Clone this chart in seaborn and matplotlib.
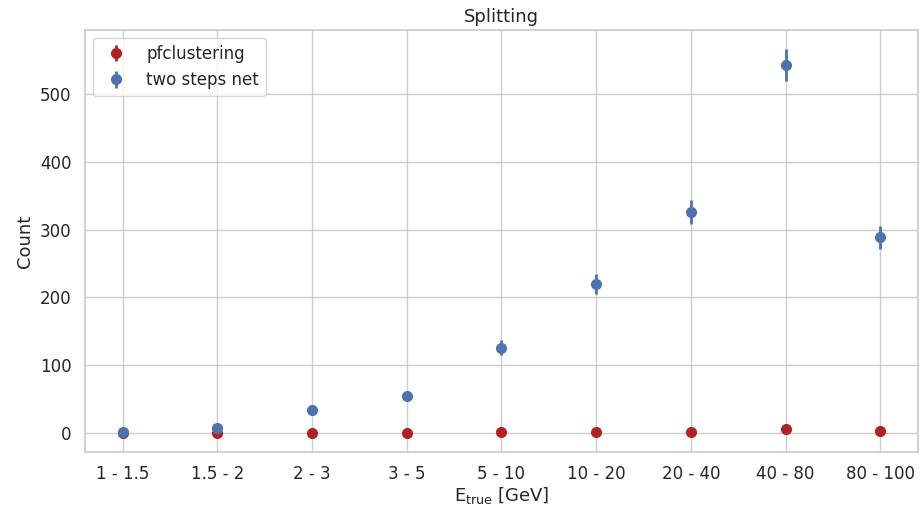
import numpy as np
import matplotlib
matplotlib.use("Agg")
import matplotlib.pyplot as plt
import seaborn as sns

energy_bins = ["1 - 1.5", "1.5 - 2", "2 - 3", "3 - 5", "5 - 10",
               "10 - 20", "20 - 40", "40 - 80", "80 - 100"]
pfclustering_counts = [0, 0, 0, 0, 2, 1, 2, 6, 3]
two_steps_counts = [1, 8, 34, 55, 126, 220, 326, 543, 289]

sns.set_theme(style="whitegrid", rc={
    "xtick.labelsize": 12, "ytick.labelsize": 12,
    "axes.labelsize": 13, "axes.titlesize": 13,
    "legend.fontsize": 12,
})

fig, ax = plt.subplots(figsize=(9.21, 5.08), dpi=100)
x = np.arange(len(energy_bins))

series = [
    ("pfclustering", pfclustering_counts, "#b22222"),
    ("two steps net", two_steps_counts, "#4c72b0"),
]
for label, counts, color in series:
    counts = np.asarray(counts, dtype=float)
    ax.errorbar(x, counts, yerr=np.sqrt(counts), fmt="o", color=color,
                markersize=7, elinewidth=2, capsize=0, label=label)

ax.set_xticks(x)
ax.set_xticklabels(energy_bins)
ax.set_xlabel(r"E$_{\mathrm{true}}$ [GeV]", labelpad=1)
ax.set_ylabel("Count")
ax.set_title("Splitting")
ax.legend(loc="upper left")

fig.subplots_adjust(left=0.092, right=0.997, top=0.941, bottom=0.11)
fig.savefig("out.png", dpi=100)
